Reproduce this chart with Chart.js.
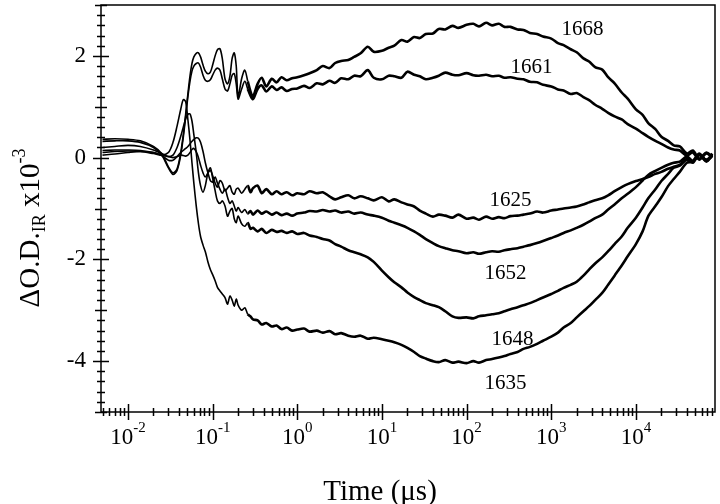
<!DOCTYPE html>
<html>
<head>
    <meta charset="UTF-8">
    <title>Transient IR absorbance</title>
    <script src="https://cdn.jsdelivr.net/npm/chart.js"></script>
    <style>
        html, body { margin: 0; padding: 0; background: #fff; }
        .chart-container { position: relative; width: 720px; height: 504px; }
    </style>
</head>
<body>
<div class="chart-container">
    <canvas id="transientChart"></canvas>
</div>
<script>
    // Time points (microseconds)
    const time = [
        0.005, 0.007, 0.01, 0.014, 0.02, 0.025, 0.03, 0.034, 0.038, 0.042,
        0.045, 0.048, 0.051, 0.054, 0.057, 0.06, 0.064, 0.068, 0.072, 0.077,
        0.082, 0.088, 0.094, 0.1, 0.107, 0.114, 0.122, 0.13, 0.14, 0.15,
        0.16, 0.17, 0.18, 0.19, 0.2, 0.22, 0.24, 0.26, 0.28, 0.3,
        0.34, 0.38, 0.43, 0.5, 0.57, 0.65, 0.75, 0.87,
        1, 1.2, 1.4, 1.7, 2, 2.4, 2.8, 3.3, 4, 4.7, 5.6, 6.8, 8,
        10, 12, 14, 17, 20, 24, 28, 33, 40, 47, 56, 68, 80,
        100, 120, 140, 170, 200, 240, 280, 330, 400, 470, 560, 680, 800,
        1000, 1200, 1400, 1700, 2000, 2400, 2800, 3300, 4000, 4700, 5600, 6800, 8000,
        10000, 12000, 14000, 17000, 20000, 24000, 28000, 33000, 40000, 47000, 56000, 68000, 80000
    ];

    // dOD x 1e3 for each probe wavenumber (cm-1)
    const od1668 = [
        0.36, 0.37, 0.36, 0.33, 0.22, 0.08, -0.18, -0.30, -0.22, 0.10,
        0.45, 0.85, 1.25, 1.60, 1.85, 1.98, 2.05, 2.06, 1.98, 1.82,
        1.70, 1.65, 1.68, 1.82, 2.00, 2.12, 2.14, 1.95, 1.55, 1.45,
        1.60, 1.95, 2.06, 1.80, 1.20, 1.55, 1.72, 1.50, 1.30, 1.20,
        1.45, 1.57, 1.40, 1.55, 1.48, 1.58, 1.52, 1.56,
        1.58, 1.62, 1.66, 1.72, 1.80, 1.76, 1.86, 1.90, 1.92, 1.98, 2.05, 2.18, 2.08,
        2.10, 2.16, 2.20, 2.31, 2.28, 2.37, 2.35, 2.43, 2.44, 2.53, 2.52, 2.59, 2.55,
        2.61, 2.63, 2.58, 2.65, 2.60, 2.63, 2.57, 2.57, 2.52, 2.51, 2.45, 2.43, 2.38,
        2.34, 2.25, 2.21, 2.13, 2.07, 1.95, 1.89, 1.78, 1.73, 1.58, 1.46, 1.28, 1.16,
        0.95, 0.84, 0.68, 0.56, 0.41, 0.33, 0.24, 0.22, 0.08, 0.14, -0.02, 0.10, 0.02
    ];
    const od1661 = [
        0.32, 0.33, 0.33, 0.30, 0.20, 0.05, -0.20, -0.33, -0.25, 0.05,
        0.40, 0.80, 1.20, 1.50, 1.70, 1.80, 1.85, 1.86, 1.78, 1.62,
        1.52, 1.50, 1.53, 1.62, 1.72, 1.76, 1.72, 1.55, 1.35, 1.31,
        1.45, 1.62, 1.65, 1.45, 1.15, 1.35, 1.50, 1.35, 1.22, 1.15,
        1.35, 1.42, 1.30, 1.40, 1.33, 1.38, 1.31, 1.35,
        1.36, 1.41, 1.37, 1.46, 1.44, 1.51, 1.47, 1.56, 1.54, 1.61, 1.60, 1.72, 1.57,
        1.54, 1.61, 1.60, 1.57, 1.69, 1.63, 1.60, 1.54, 1.57, 1.61, 1.67, 1.63, 1.62,
        1.66, 1.62, 1.61, 1.63, 1.60, 1.61, 1.57, 1.58, 1.55, 1.54, 1.49, 1.48, 1.43,
        1.40, 1.34, 1.32, 1.25, 1.27, 1.19, 1.13, 1.04, 0.96, 0.88, 0.81, 0.75, 0.66,
        0.57, 0.48, 0.41, 0.33, 0.27, 0.20, 0.16, 0.14, 0.04, 0.10, -0.04, 0.08, 0.00
    ];
    const od1625 = [
        0.20, 0.22, 0.24, 0.22, 0.15, 0.08, 0.02, 0.00, 0.02, 0.05,
        0.04, 0.03, 0.05, 0.10, 0.16, 0.18, 0.12, 0.00, -0.15, -0.30,
        -0.38, -0.30, -0.25, -0.35, -0.50, -0.58, -0.45, -0.50, -0.65, -0.60,
        -0.55, -0.68, -0.72, -0.62, -0.60, -0.70, -0.62, -0.55, -0.68, -0.60,
        -0.55, -0.70, -0.62, -0.72, -0.66, -0.72, -0.68, -0.74,
        -0.70, -0.72, -0.66, -0.70, -0.68, -0.76, -0.82, -0.78, -0.74, -0.80, -0.76, -0.80, -0.84,
        -0.78, -0.86, -0.82, -0.88, -0.92, -0.96, -1.04, -1.10, -1.16, -1.12, -1.14, -1.18, -1.12,
        -1.20, -1.18, -1.22, -1.16, -1.20, -1.17, -1.19, -1.15, -1.14, -1.12, -1.10, -1.06, -1.08,
        -1.04, -1.02, -1.00, -0.98, -0.96, -0.92, -0.88, -0.84, -0.80, -0.74, -0.66, -0.58, -0.52,
        -0.46, -0.42, -0.38, -0.32, -0.28, -0.22, -0.18, -0.14, -0.02, -0.08, 0.06, -0.04, 0.05
    ];
    const od1652 = [
        0.14, 0.15, 0.15, 0.14, 0.10, 0.04, -0.05, -0.05, 0.02, 0.10,
        0.14, 0.18, 0.22, 0.27, 0.32, 0.36, 0.39, 0.38, 0.30, 0.12,
        -0.10, -0.30, -0.45, -0.48, -0.38, -0.50, -0.62, -0.70, -0.62, -0.78,
        -0.90, -0.85, -0.95, -1.05, -0.98, -1.08, -1.02, -1.10, -1.05, -1.12,
        -1.04, -1.10, -1.06, -1.12, -1.08, -1.13, -1.10, -1.14,
        -1.10, -1.08, -1.05, -1.06, -1.03, -1.06, -1.04, -1.08, -1.06, -1.10, -1.08, -1.12, -1.14,
        -1.18, -1.24, -1.28, -1.33, -1.38, -1.45, -1.52, -1.60, -1.68, -1.74, -1.78, -1.82, -1.84,
        -1.88, -1.86, -1.89, -1.86, -1.84, -1.85, -1.82, -1.80, -1.78, -1.75, -1.72, -1.68, -1.64,
        -1.58, -1.53, -1.48, -1.43, -1.38, -1.32, -1.26, -1.19, -1.12, -1.02, -0.92, -0.80, -0.71,
        -0.58, -0.45, -0.34, -0.26, -0.20, -0.14, -0.10, -0.08, 0.02, -0.06, 0.08, -0.06, 0.04
    ];
    const od1648 = [
        0.05, 0.07, 0.10, 0.12, 0.10, 0.05, 0.02, 0.05, 0.20, 0.42,
        0.60, 0.76, 0.85, 0.86, 0.72, 0.45, 0.10, -0.30, -0.55, -0.68,
        -0.55, -0.30, -0.20, -0.40, -0.65, -0.85, -0.90, -0.85, -0.95, -1.15,
        -1.05, -1.00, -1.20, -1.28, -1.15, -1.30, -1.35, -1.28, -1.40, -1.38,
        -1.45, -1.40, -1.48, -1.42, -1.46, -1.44, -1.48, -1.45,
        -1.50, -1.48, -1.53, -1.56, -1.60, -1.63, -1.70, -1.75, -1.82, -1.86, -1.90, -1.96, -2.05,
        -2.22, -2.35, -2.45, -2.55, -2.65, -2.74, -2.80, -2.86, -2.90, -2.94, -3.02, -3.12, -3.15,
        -3.14, -3.16, -3.12, -3.10, -3.08, -3.06, -3.02, -2.98, -2.94, -2.90, -2.86, -2.80, -2.75,
        -2.68, -2.62, -2.56, -2.50, -2.44, -2.32, -2.20, -2.08, -1.96, -1.84, -1.70, -1.55, -1.38,
        -1.18, -0.98, -0.80, -0.62, -0.46, -0.32, -0.20, -0.16, -0.04, -0.10, 0.06, -0.08, 0.05
    ];
    const od1635 = [
        0.10, 0.12, 0.13, 0.12, 0.08, 0.05, 0.10, 0.30, 0.62, 0.95,
        1.14, 1.10, 0.75, 0.35, -0.10, -0.50, -0.95, -1.30, -1.55, -1.72,
        -1.85, -2.05, -2.20, -2.30, -2.42, -2.55, -2.62, -2.68, -2.75, -2.88,
        -2.72, -2.80, -2.92, -2.78, -2.90, -3.00, -2.95, -3.08, -3.12, -3.18,
        -3.20, -3.28, -3.25, -3.32, -3.30, -3.37, -3.34, -3.40,
        -3.38, -3.36, -3.42, -3.40, -3.44, -3.41, -3.47, -3.45, -3.50, -3.52, -3.50, -3.56, -3.54,
        -3.57, -3.60, -3.63, -3.68, -3.74, -3.82, -3.90, -3.95, -4.00, -4.02, -3.98, -4.03, -4.01,
        -4.04, -4.00, -4.03, -3.98, -3.96, -3.93, -3.90, -3.86, -3.82, -3.76, -3.72, -3.66, -3.60,
        -3.52, -3.44, -3.34, -3.25, -3.14, -3.02, -2.92, -2.80, -2.66, -2.50, -2.32, -2.12, -1.94,
        -1.70, -1.45, -1.15, -0.95, -0.78, -0.56, -0.42, -0.28, -0.10, -0.08, 0.05, -0.06, 0.08
    ];

    // curve labels: text and where they sit (time, value)
    const labelText = ['1668', '1661', '1625', '1652', '1648', '1635'];
    const labelTime = [2340, 583, 330, 288, 348, 288];
    const labelValue = [2.51, 1.78, -0.84, -2.27, -3.57, -4.43];

    // axis ticks
    const xDecades = [-2, -1, 0, 1, 2, 3, 4];
    const yTickValues = [-4, -2, 0, 2];
    const xMin = 0.0048, xMax = 86000, yMin = -5, yMax = 3;

    const serif = '"Liberation Serif", "Times New Roman", serif';

    // draws a run of text pieces (normal / super / sub) starting at x
    function richWidth(ctx, parts) {
        let w = 0;
        parts.forEach(p => { ctx.font = p.size + 'px ' + serif; w += ctx.measureText(p.text).width; });
        return w;
    }
    function drawRich(ctx, parts, x, y) {
        parts.forEach(p => {
            ctx.font = p.size + 'px ' + serif;
            ctx.fillText(p.text, x, y + (p.dy || 0));
            x += ctx.measureText(p.text).width;
        });
    }

    const paperAxes = {
        id: 'paperAxes',
        afterDatasetsDraw(chart) {
            const { ctx, chartArea: a, scales: { x, y } } = chart;
            ctx.save();
            ctx.strokeStyle = '#000';
            ctx.fillStyle = '#000';
            ctx.lineWidth = 1.5;
            ctx.strokeRect(a.left, a.top, a.right - a.left, a.bottom - a.top);

            ctx.beginPath();
            // y ticks: minor every 0.2, medium at odd, major at even
            for (let i = 0; i <= 40; i++) {
                const v = Math.round((yMin + i * 0.2) * 10) / 10;
                const py = Math.round(y.getPixelForValue(v)) + 0.5;
                let len = 4;
                if (Math.abs(v % 2) < 1e-6) len = 8;
                else if (Math.abs(v % 1) < 1e-6) len = 6;
                ctx.moveTo(a.left - len, py);
                ctx.lineTo(a.left + len, py);
            }
            // x ticks: decades long, 2..9 short
            for (let e = -3; e <= 4; e++) {
                for (let m = 1; m <= 9; m++) {
                    const t = m * Math.pow(10, e);
                    if (t < xMin || t > xMax) continue;
                    const px = Math.round(x.getPixelForValue(t)) + 0.5;
                    const len = m === 1 ? 8 : 4;
                    ctx.moveTo(px, a.bottom - len);
                    ctx.lineTo(px, a.bottom + len);
                }
            }
            ctx.stroke();

            // y tick labels
            ctx.textAlign = 'right';
            ctx.textBaseline = 'middle';
            ctx.font = '23px ' + serif;
            yTickValues.forEach(v => {
                ctx.fillText(v < 0 ? '-' + Math.abs(v) : String(v), a.left - 15, y.getPixelForValue(v));
            });

            // x tick labels 10^n
            ctx.textAlign = 'left';
            ctx.textBaseline = 'alphabetic';
            xDecades.forEach(n => {
                const parts = [{ text: '10', size: 23 }, { text: String(n), size: 15, dy: -12 }];
                const w = richWidth(ctx, parts);
                drawRich(ctx, parts, x.getPixelForValue(Math.pow(10, n)) - w / 2, a.bottom + 32);
            });

            // axis titles
            ctx.font = '29px ' + serif;
            ctx.textAlign = 'center';
            ctx.fillText('Time (\u03bcs)', 380, 500);

            ctx.save();
            ctx.translate(39, 228);
            ctx.rotate(-Math.PI / 2);
            ctx.textAlign = 'left';
            const yTitle = [
                { text: '\u0394O.D.', size: 29 },
                { text: 'IR', size: 18, dy: 6 },
                { text: ' x10', size: 29 },
                { text: '-3', size: 18, dy: -14 }
            ];
            drawRich(ctx, yTitle, -richWidth(ctx, yTitle) / 2, 0);
            ctx.restore();

            // curve labels
            ctx.font = '21px ' + serif;
            ctx.textAlign = 'center';
            ctx.textBaseline = 'middle';
            labelText.forEach((txt, i) => {
                ctx.fillText(txt, x.getPixelForValue(labelTime[i]), y.getPixelForValue(labelValue[i]));
            });
            ctx.restore();
        }
    };

    const seriesList = [od1668, od1661, od1625, od1652, od1648, od1635];

    const transientChart = new Chart(document.getElementById('transientChart'), {
        type: 'line',
        data: {
            datasets: seriesList.map((vals, k) => ({
                label: labelText[k],
                data: time.map((t, i) => ({ x: t, y: vals[i] })),
                borderColor: '#000',
                borderWidth: 2,
                pointRadius: 0,
                tension: 0.3,
                fill: false,
                segment: {
                    borderWidth: c => c.p0.parsed.x < 0.25 ? 1.6 : 2.6
                }
            }))
        },
        options: {
            responsive: true,
            maintainAspectRatio: false,
            animation: false,
            layout: { padding: { left: 101, right: 5, top: 5, bottom: 92 } },
            plugins: { legend: { display: false }, tooltip: { enabled: false } },
            scales: {
                x: { type: 'logarithmic', min: xMin, max: xMax, display: false },
                y: { type: 'linear', min: yMin, max: yMax, display: false }
            }
        },
        plugins: [paperAxes]
    });
</script>
</body>
</html>
